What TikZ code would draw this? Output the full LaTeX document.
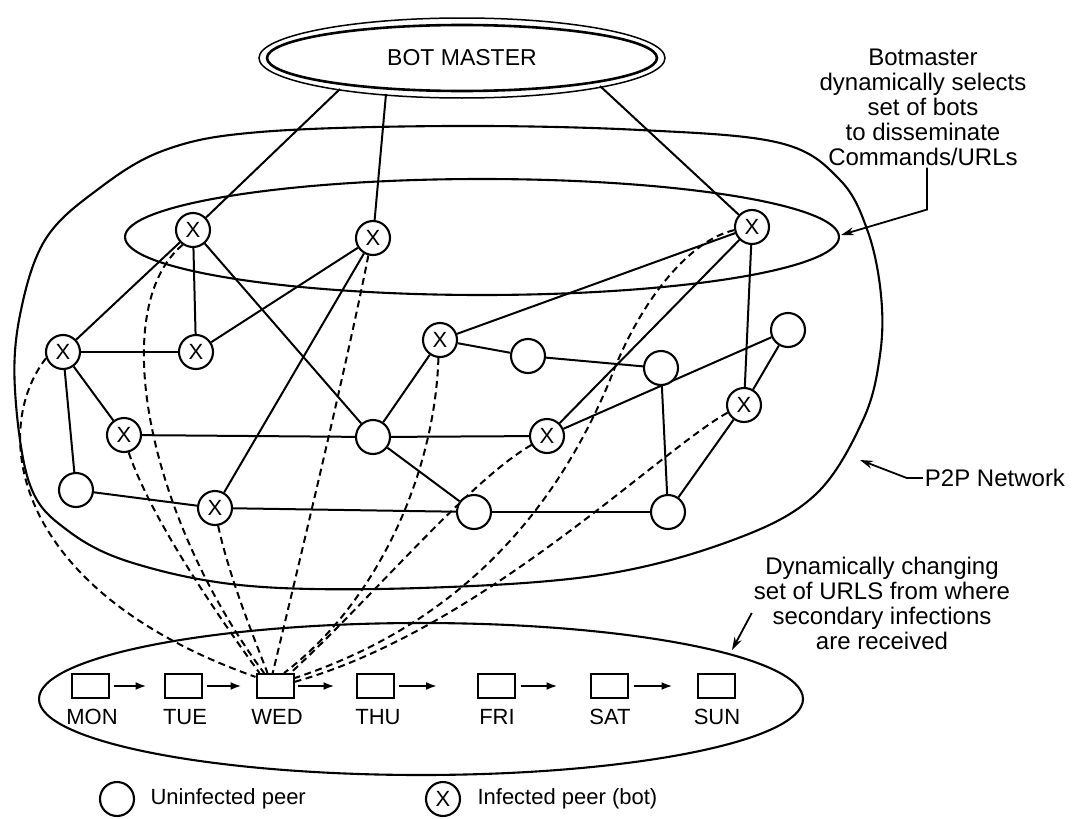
\documentclass[tikz,border=0pt]{standalone}
\usepackage{fontspec}
\setmainfont{Liberation Sans}
\usetikzlibrary{shapes.geometric,arrows.meta,backgrounds}
\begin{document}
\begin{tikzpicture}[x=1pt,y=-1pt,
  every node/.style={font=\fontsize{23}{25}\selectfont},
  peer/.style={circle,draw,line width=2.1pt,minimum size=34pt,inner sep=0pt,fill=white},
  bot/.style={peer,font=\fontsize{22}{22}\selectfont},
  link/.style={line width=2pt},
  spread/.style={line width=2pt,dash pattern=on 7pt off 4.5pt},
  daybox/.style={draw,line width=2pt,minimum width=37pt,minimum height=24pt,inner sep=0pt,fill=white},
  dayname/.style={font=\fontsize{22}{22}\selectfont},
  arr/.style={line width=2pt,-{Latex[length=11pt,width=8pt]}},
  callout/.style={line width=1.8pt,-{Stealth[length=13pt,width=8pt]}},
  note/.style={align=center,inner sep=2pt,font=\fontsize{24}{25}\selectfont}
]
\useasboundingbox (0,0) rectangle (1072,819);

% ---- bot master ----
\node (BM) at (462,58) {BOT MASTER};
\coordinate (bmA) at (340,89);
\coordinate (bmB) at (386,94);
\coordinate (bmC) at (600,86);

% ---- infected peers ----
\node[bot] (A1) at (193,230) {X};
\node[bot] (A2) at (373,238) {X};
\node[bot] (A3) at (752,227) {X};
\node[bot] (B1) at (63,352) {X};
\node[bot] (B2) at (196,352) {X};
\node[bot] (B3) at (440,340) {X};
\node[bot] (C1) at (124,435) {X};
\node[bot] (C2) at (547,436) {X};
\node[bot] (C3) at (744,405) {X};
\node[bot] (D2) at (215,508) {X};

% ---- uninfected peers ----
\node[peer] (U1) at (528,356) {};
\node[peer] (U2) at (661,368) {};
\node[peer] (U3) at (788,330) {};
\node[peer] (U4) at (373,437) {};
\node[peer] (U5) at (76,490) {};
\node[peer] (U6) at (474,512) {};
\node[peer] (U7) at (668,512) {};

% ---- URL schedule ----
\node[daybox] (MON) at (90,686) {};
\node[daybox] (TUE) at (183,686) {};
\node[daybox] (WED) at (275,686) {};
\node[daybox] (THU) at (375,686) {};
\node[daybox] (FRI) at (496,686) {};
\node[daybox] (SAT) at (609,686) {};
\node[daybox] (SUN) at (716,686) {};
\coordinate (THUend) at (437,686);
\node[dayname] (lMON) at (92,717) {MON};
\node[dayname] (lTUE) at (185,717) {TUE};
\node[dayname] (lWED) at (277,717) {WED};
\node[dayname] (lTHU) at (378,717) {THU};
\node[dayname] (lFRI) at (497,717) {FRI};
\node[dayname] (lSAT) at (610,717) {SAT};
\node[dayname] (lSUN) at (717,717) {SUN};

% ---- annotations ----
\node[note] (sel) at (923,107) {Botmaster\\dynamically selects\\set of bots\\to disseminate\\Commands/URLs};
\coordinate (selTip) at (841,235);
\node[note] (p2p) at (995,478) {P2P Network};
\coordinate (p2pTip) at (860,460);
\node[note] (dyn) at (882,603) {Dynamically changing\\set of URLS from where\\secondary infections\\are received};
\coordinate (dynTip) at (732,650);

% ---- legend ----
\node[peer] (legU) at (117,799) {};
\node[anchor=west,font=\fontsize{22}{22}\selectfont] (legUt) at (147,799) {Uninfected peer};
\node[bot] (legI) at (443,799) {X};
\node[anchor=west,font=\fontsize{22}{22}\selectfont] (legIt) at (474,799) {Infected peer (bot)};

\begin{scope}[on background layer]
  % bot master double outline
  \draw[line width=1.5pt] (BM.center) ellipse [x radius=203pt, y radius=40pt];
  \draw[line width=2.6pt] (BM.center) ellipse [x radius=195pt, y radius=33pt];

  % P2P network boundary
  \draw[line width=2.1pt] plot[smooth cycle, tension=0.6] coordinates {
    (15,390) (20,315) (45,240) (97,190) (165,150) (260,132) (450,126)
    (640,130) (780,143) (840,180) (868,232) (881,295) (880,355) (863,420)
    (815,495) (733,540) (600,575) (420,588) (250,586) (133,563) (67,530)
    (30,485)};

  % selected bots
  \draw[line width=2.1pt] (482,237) ellipse [x radius=357pt, y radius=58pt];

  % URL ring
  \draw[line width=2.1pt] (421,699) ellipse [x radius=382pt, y radius=76pt];

  % command links
  \draw[link] (bmA) -- (A1);
  \draw[link] (bmB) -- (A2);
  \draw[link] (bmC) -- (A3);

  % peer links
  \draw[link] (A1) -- (B1);
  \draw[link] (A1) -- (B2);
  \draw[link] (A1) -- (U4);
  \draw[link] (U4) -- (U6);
  \draw[link] (B1) -- (B2);
  \draw[link] (B2) -- (A2);
  \draw[link] (B1) -- (C1);
  \draw[link] (B1) -- (U5);
  \draw[link] (C1) -- (U4);
  \draw[link] (U4) -- (C2);
  \draw[link] (U5) -- (D2);
  \draw[link] (D2) -- (A2);
  \draw[link] (D2) -- (U6);
  \draw[link] (U6) -- (U7);
  \draw[link] (U4) -- (B3);
  \draw[link] (B3) -- (A3);
  \draw[link] (B3) -- (U1);
  \draw[link] (U1) -- (U2);
  \draw[link] (C2) -- (A3);
  \draw[link] (C2) -- (U3);
  \draw[link] (U2) -- (U7);
  \draw[link] (A3) -- (C3);
  \draw[link] (C3) -- (U3);
  \draw[link] (C3) -- (U7);

  % bots fetching from the current URL
  \draw[spread] (B1.200) .. controls (-10,430) and (10,590) .. (WED.155);
  \draw[spread] (C1.285) .. controls (150,515) and (210,605) .. (WED.140);
  \draw[spread] (A1.235) .. controls (105,310) and (150,520) .. (WED.130);
  \draw[spread] (D2.280) .. controls (230,580) and (255,640) .. (WED.120);
  \draw[spread] (A2.255) .. controls (350,350) and (300,560) .. (WED.100);
  \draw[spread] (B3.265) .. controls (435,470) and (380,600) .. (WED.55);
  \draw[spread] (C2.210) .. controls (470,480) and (370,600) .. (WED.40);
  \draw[spread] (A3.190) .. controls (690,240) and (640,300) .. (610,380)
                         .. controls (560,500) and (470,620) .. (WED.22);
  \draw[spread] (C3.205) .. controls (660,450) and (480,630) .. (WED.12);
\end{scope}

% day-to-day succession
\draw[arr, shorten <=4pt, shorten >=17pt] (MON) -- (TUE);
\draw[arr, shorten <=4pt, shorten >=14pt] (TUE) -- (WED);
\draw[arr, shorten <=3pt, shorten >=21pt] (WED) -- (THU);
\draw[arr, shorten <=4pt] (THU) -- (THUend);
\draw[arr, shorten <=5pt, shorten >=32pt] (FRI) -- (SAT);
\draw[arr, shorten <=5pt, shorten >=24pt] (SAT) -- (SUN);

% callouts
\draw[callout] ([xshift=4pt]sel.south) -- ++(0,42) -- (selTip);
\draw[callout] (p2p.west) -- ++(-16,0) -- (p2pTip);
\draw[callout] ([yshift=-10pt]dyn.west) -- (dynTip);
\end{tikzpicture}
\end{document}
